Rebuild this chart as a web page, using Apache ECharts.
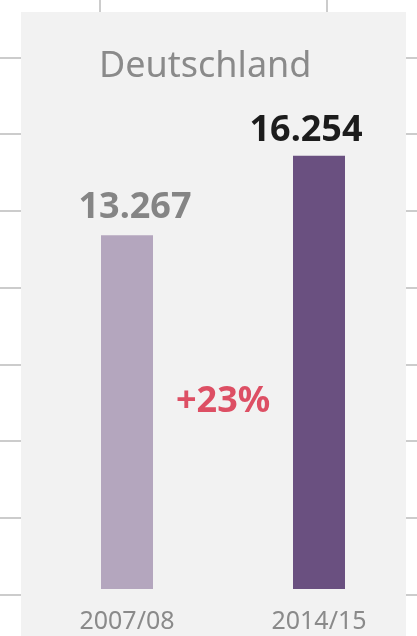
<!DOCTYPE html>
<html>
<head>
<meta charset="utf-8">
<script src="https://cdn.jsdelivr.net/npm/echarts@6/dist/echarts.min.js"></script>
<style>
  html, body { margin: 0; padding: 0; background: #fff; }
  #chart { width: 417px; height: 636px; }
</style>
</head>
<body>
<div id="chart"></div>
<script>
// Daten
var categories = ['2007/08', '2014/15'];
var values = [13267, 16254];
var valueLabels = ['13.267', '16.254'];
var changeText = '+23%';
var titleText = 'Deutschland';

var chart = echarts.init(document.getElementById('chart'));

var font = '"Noto Sans", "Open Sans", sans-serif';
var lineColor = '#cccccc';

var option = {
  animation: false,
  title: {
    text: titleText,
    left: 94,
    top: 44,
    textStyle: { fontFamily: font, fontSize: 36, fontWeight: 'normal', color: '#8a8a8a' }
  },
  grid: [
    // Hintergrund: horizontale Linien
    { left: 0, right: 0, top: 57.3, bottom: 41.5 },
    // Hintergrund: senkrechte Linien oben
    { left: 100, right: 90, top: 0, bottom: 0 },
    // Balken
    { left: 31, right: 2, top: 55.8, bottom: 47 }
  ],
  xAxis: [
    { gridIndex: 0, type: 'value', show: false },
    {
      gridIndex: 1, type: 'value', min: 0, max: 1, interval: 1,
      axisLine: { show: false }, axisTick: { show: false }, axisLabel: { show: false },
      splitLine: { show: true, lineStyle: { color: lineColor, width: 2 } }
    },
    {
      gridIndex: 2, type: 'category', data: categories, z: 6,
      axisLine: { show: false }, axisTick: { show: false },
      axisLabel: { margin: 20, fontFamily: font, fontSize: 25, color: '#8a8a8a' }
    }
  ],
  yAxis: [
    {
      gridIndex: 0, type: 'value', min: 0, max: 7, interval: 1,
      axisLine: { show: false }, axisTick: { show: false }, axisLabel: { show: false },
      splitLine: { show: true, lineStyle: { color: lineColor, width: 2 } }
    },
    { gridIndex: 1, type: 'value', show: false },
    { gridIndex: 2, type: 'value', min: 0, max: 20000, show: false, splitLine: { show: false } }
  ],
  graphic: [
    {
      type: 'rect', z: 1,
      shape: { x: 21, y: 12, width: 385, height: 630 },
      style: { fill: '#f2f2f2' }
    },
    {
      type: 'text', z: 10,
      left: 176, top: 384,
      style: { text: changeText, font: 'bold 36px "Noto Sans", sans-serif', fill: '#dd4f64' }
    }
  ],
  series: [
    {
      type: 'bar',
      xAxisIndex: 2,
      yAxisIndex: 2,
      barWidth: 52,
      z: 5,
      data: [
        {
          value: values[0],
          itemStyle: { color: '#b4a6be' },
          label: { offset: [8, -6], color: '#858585' }
        },
        {
          value: values[1],
          itemStyle: { color: '#6a5080' },
          label: { offset: [-13, -3], color: '#1c1c1c' }
        }
      ],
      label: {
        show: true,
        position: 'top',
        distance: 4,
        fontFamily: font,
        fontSize: 36,
        fontWeight: 'bold',
        formatter: function (p) { return valueLabels[p.dataIndex]; }
      }
    }
  ]
};

chart.setOption(option);
</script>
</body>
</html>
